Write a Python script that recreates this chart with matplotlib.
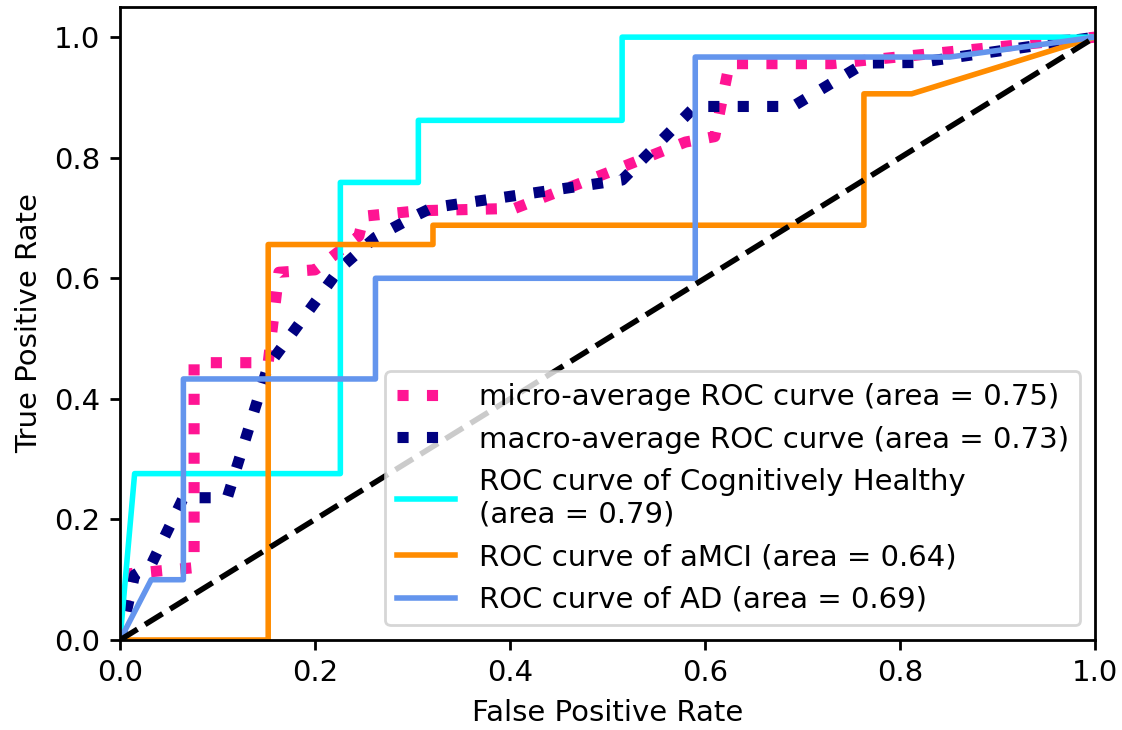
import matplotlib
matplotlib.use("Agg")
import matplotlib.pyplot as plt

# Per-class ROC curves
ch_fpr = [0.0, 0.015, 0.226, 0.226, 0.306, 0.306, 0.515, 0.515, 1.0]
ch_tpr = [0.0, 0.276, 0.276, 0.759, 0.759, 0.862, 0.862, 1.0, 1.0]

amci_fpr = [0.0, 0.152, 0.152, 0.321, 0.321, 0.763, 0.763, 0.812, 1.0]
amci_tpr = [0.0, 0.0, 0.656, 0.656, 0.688, 0.688, 0.906, 0.906, 1.0]

ad_fpr = [0.0, 0.032, 0.065, 0.065, 0.262, 0.262, 0.590, 0.590, 0.851, 1.0]
ad_tpr = [0.0, 0.100, 0.100, 0.433, 0.433, 0.600, 0.600, 0.967, 0.967, 1.0]

micro_fpr = [0.0, 0.010, 0.076, 0.076, 0.152, 0.163, 0.200, 0.245, 0.250, 0.306,
             0.405, 0.500, 0.580, 0.610, 0.625, 0.730, 1.0]
micro_tpr = [0.0, 0.110, 0.120, 0.460, 0.460, 0.610, 0.614, 0.670, 0.703, 0.712,
             0.716, 0.775, 0.826, 0.835, 0.956, 0.956, 1.0]

macro_fpr = [0.0, 0.015, 0.032, 0.065, 0.110, 0.152, 0.226, 0.262, 0.306, 0.320,
             0.515, 0.590, 0.690, 0.764, 0.820, 1.0]
macro_tpr = [0.0, 0.108, 0.125, 0.236, 0.236, 0.455, 0.617, 0.668, 0.706, 0.717,
             0.763, 0.885, 0.885, 0.957, 0.958, 1.0]

labels = [
    "micro-average ROC curve (area = 0.75)",
    "macro-average ROC curve (area = 0.73)",
    "ROC curve of Cognitively Healthy\n(area = 0.79)",
    "ROC curve of aMCI (area = 0.64)",
    "ROC curve of AD (area = 0.69)",
]

plt.rcParams["font.size"] = 10.5
plt.rcParams["axes.linewidth"] = 1.0
plt.rcParams["xtick.major.width"] = 1.0
plt.rcParams["ytick.major.width"] = 1.0

fig = plt.figure(figsize=(5.61, 3.65), dpi=200)
ax = fig.add_axes([120 / 1122, 1 - 640 / 730, 975 / 1122, 633 / 730])

ax.plot(micro_fpr, micro_tpr, color="deeppink", linestyle=":", linewidth=4, label=labels[0])
ax.plot(macro_fpr, macro_tpr, color="navy", linestyle=":", linewidth=4, label=labels[1])
ax.plot(ch_fpr, ch_tpr, color="aqua", lw=2, label=labels[2])
ax.plot(amci_fpr, amci_tpr, color="darkorange", lw=2, label=labels[3])
ax.plot(ad_fpr, ad_tpr, color="cornflowerblue", lw=2, label=labels[4])
ax.plot([0, 1], [0, 1], "k--", lw=2)

ax.set_xlim([0.0, 1.0])
ax.set_ylim([0.0, 1.05])
ax.set_xlabel("False Positive Rate")
ax.set_ylabel("True Positive Rate")
ax.legend(loc="lower right")

fig.savefig("out.png", dpi=200)
